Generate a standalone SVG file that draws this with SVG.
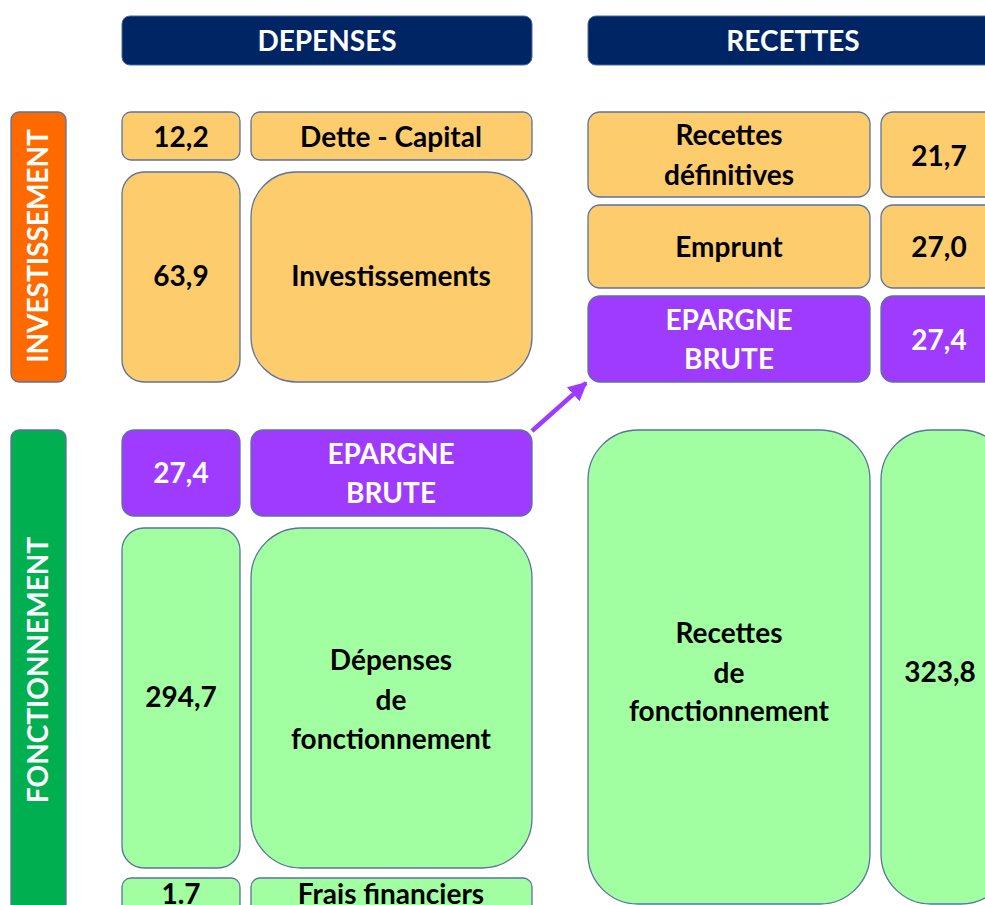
<svg xmlns="http://www.w3.org/2000/svg" width="985" height="905" viewBox="0 0 985 905">
  <defs>
    <style>
      .hdr { fill: #002565; stroke: #4a6a9a; stroke-width: 1; }
      .inv { fill: #FDCC6C; stroke: #5a73a0; stroke-width: 1.3; }
      .fon { fill: #A1FFA1; stroke: #5a73a0; stroke-width: 1.3; }
      .epa { fill: #9E3BFF; stroke: #5a73a0; stroke-width: 1.3; }
      .bar-inv { fill: #FF6A00; stroke: #5a73a0; stroke-width: 1.3; }
      .bar-fon { fill: #00B050; stroke: #5a73a0; stroke-width: 1.3; }
      text { font-family: "Lato", "Open Sans", "Liberation Sans", sans-serif; font-weight: bold; font-size: 28px; text-anchor: middle; }
      .dark { fill: #000000; }
      .light { fill: #FFFFFF; }
      .head { fill: #FFFFFF; }
    </style>
    <marker id="arrowHead" viewBox="0 0 10 10" refX="9" refY="5" markerWidth="4.2" markerHeight="4.2" orient="auto">
      <path d="M0,0 L10,5 L0,10 Z" fill="#9E3BFF"/>
    </marker>
  </defs>

  <rect width="985" height="905" fill="#FFFFFF"/>

  <!-- column headers -->
  <g id="header-depenses">
    <rect class="hdr" x="122" y="16" width="410" height="49" rx="8"/>
    <text class="head" x="327" y="51">DEPENSES</text>
  </g>
  <g id="header-recettes">
    <rect class="hdr" x="588" y="16" width="420" height="49" rx="8"/>
    <text class="head" x="793" y="51">RECETTES</text>
  </g>

  <!-- section bars -->
  <g id="bar-investissement">
    <rect class="bar-inv" x="11" y="112" width="55" height="270" rx="8"/>
    <text class="light" transform="translate(48,246) rotate(-90)">INVESTISSEMENT</text>
  </g>
  <g id="bar-fonctionnement">
    <rect class="bar-fon" x="11" y="430" width="55" height="500" rx="8"/>
    <text class="light" transform="translate(48,670) rotate(-90)">FONCTIONNEMENT</text>
  </g>

  <!-- investissement: dépenses -->
  <g id="val-dette">
    <rect class="inv" x="122" y="112" width="118" height="48" rx="9"/>
    <text class="dark" x="181" y="147">12,2</text>
  </g>
  <g id="dette-capital">
    <rect class="inv" x="251" y="112" width="281" height="48" rx="9"/>
    <text class="dark" x="391" y="147">Dette - Capital</text>
  </g>
  <g id="val-investissements">
    <rect class="inv" x="122" y="172" width="118" height="210" rx="22"/>
    <text class="dark" x="181" y="286">63,9</text>
  </g>
  <g id="investissements">
    <rect class="inv" x="251" y="172" width="281" height="210" rx="45"/>
    <text class="dark" x="391" y="286">Investissements</text>
  </g>

  <!-- investissement: recettes -->
  <g id="recettes-definitives">
    <rect class="inv" x="588" y="112" width="282" height="85" rx="12"/>
    <text class="dark" x="729" y="145">Recettes</text>
    <text class="dark" x="729" y="185">définitives</text>
  </g>
  <g id="val-recettes-definitives">
    <rect class="inv" x="881" y="112" width="130" height="85" rx="12"/>
    <text class="dark" x="939" y="166">21,7</text>
  </g>
  <g id="emprunt">
    <rect class="inv" x="588" y="205" width="282" height="83" rx="12"/>
    <text class="dark" x="729" y="257">Emprunt</text>
  </g>
  <g id="val-emprunt">
    <rect class="inv" x="881" y="205" width="130" height="83" rx="12"/>
    <text class="dark" x="939" y="257">27,0</text>
  </g>
  <g id="epargne-recettes">
    <rect class="epa" x="588" y="296" width="282" height="86" rx="12"/>
    <text class="light" x="729" y="330">EPARGNE</text>
    <text class="light" x="729" y="369">BRUTE</text>
  </g>
  <g id="val-epargne-recettes">
    <rect class="epa" x="881" y="296" width="130" height="86" rx="12"/>
    <text class="light" x="939" y="350">27,4</text>
  </g>

  <!-- fonctionnement: dépenses -->
  <g id="val-epargne-depenses">
    <rect class="epa" x="122" y="430" width="118" height="86" rx="12"/>
    <text class="light" x="181" y="483">27,4</text>
  </g>
  <g id="epargne-depenses">
    <rect class="epa" x="251" y="430" width="281" height="86" rx="12"/>
    <text class="light" x="391" y="464">EPARGNE</text>
    <text class="light" x="391" y="503">BRUTE</text>
  </g>
  <g id="val-depenses-fonctionnement">
    <rect class="fon" x="122" y="528" width="118" height="340" rx="22"/>
    <text class="dark" x="181" y="707">294,7</text>
  </g>
  <g id="depenses-fonctionnement">
    <rect class="fon" x="251" y="528" width="281" height="340" rx="50"/>
    <text class="dark" x="391" y="670">Dépenses</text>
    <text class="dark" x="391" y="710">de</text>
    <text class="dark" x="391" y="749">fonctionnement</text>
  </g>
  <g id="val-frais-financiers">
    <rect class="fon" x="122" y="878" width="118" height="48" rx="9"/>
    <text class="dark" x="181" y="904">1.7</text>
  </g>
  <g id="frais-financiers">
    <rect class="fon" x="251" y="878" width="281" height="48" rx="9"/>
    <text class="dark" x="391" y="904">Frais financiers</text>
  </g>

  <!-- fonctionnement: recettes -->
  <g id="recettes-fonctionnement">
    <rect class="fon" x="588" y="430" width="282" height="474" rx="50"/>
    <text class="dark" x="729" y="643">Recettes</text>
    <text class="dark" x="729" y="683">de</text>
    <text class="dark" x="729" y="721">fonctionnement</text>
  </g>
  <g id="val-recettes-fonctionnement">
    <rect class="fon" x="881" y="430" width="130" height="474" rx="50"/>
    <text class="dark" x="940" y="682">323,8</text>
  </g>

  <!-- connectors -->
  <g id="connectors">
    <line x1="532" y1="431" x2="586" y2="383" stroke="#9E3BFF" stroke-width="4.5" marker-end="url(#arrowHead)"/>
  </g>
</svg>
